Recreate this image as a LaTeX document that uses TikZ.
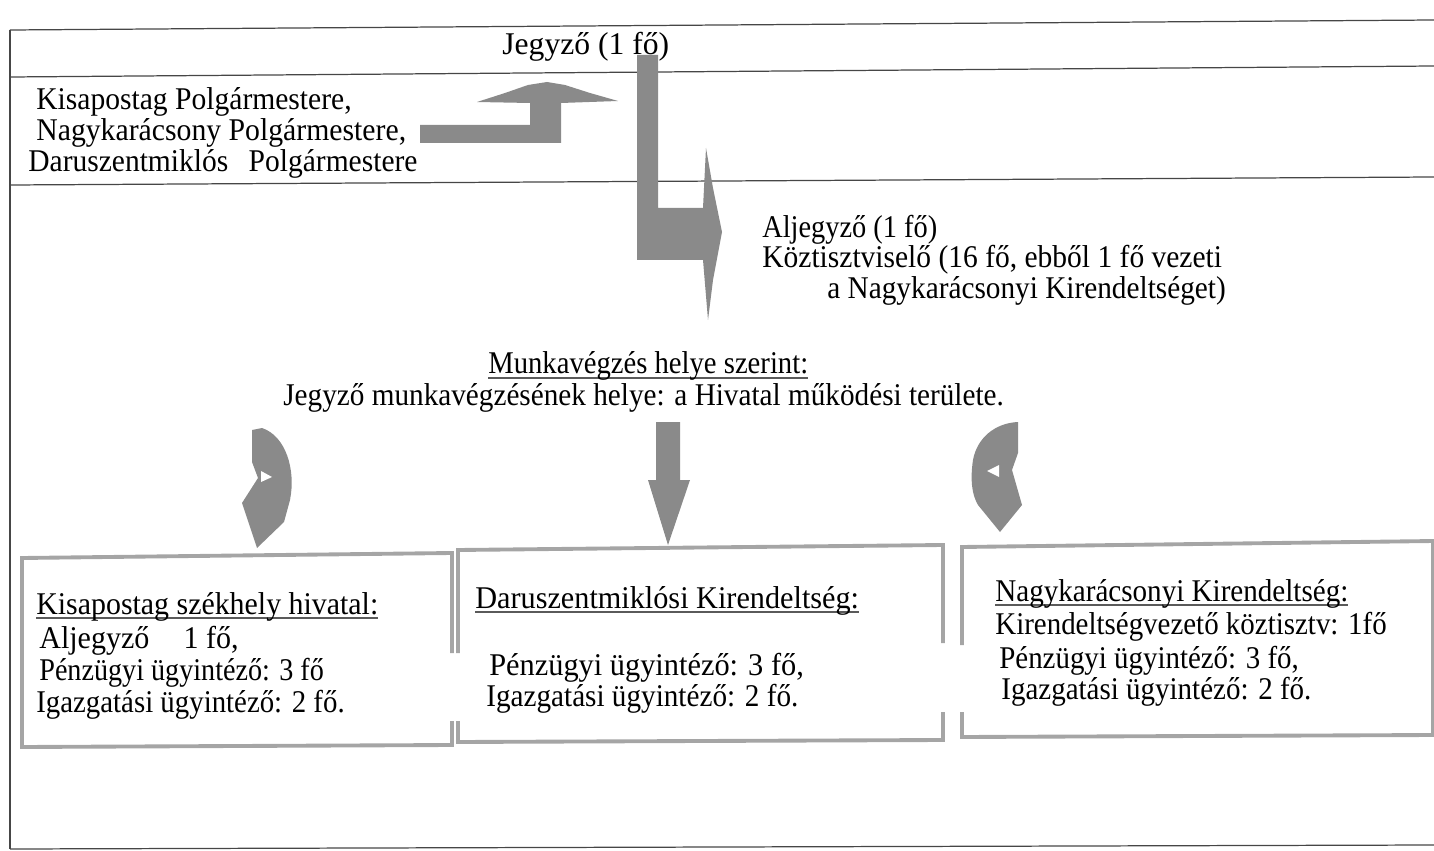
\documentclass[tikz,border=0pt]{standalone}
\usepackage{fontspec}
\usepackage{graphicx}
\setmainfont{Liberation Serif}
\definecolor{arrgray}{RGB}{138,138,138}
\definecolor{boxgray}{RGB}{165,165,165}
\definecolor{linegray}{RGB}{70,70,70}
\definecolor{ulgray}{RGB}{90,90,90}
\newcommand{\sxt}[2]{\scalebox{#1}[1]{#2}}
\newcommand{\myul}[1]{\setbox0\hbox{#1}\rlap{\textcolor{ulgray}{\rule[-2.6pt]{\wd0}{0.75pt}}}\box0}
\begin{document}
\begin{tikzpicture}[x=0.02cm,y=-0.02cm,
  txt/.style={anchor=base west,inner sep=0pt,font=\fontsize{18}{20}\selectfont},
  frame/.style={draw=linegray,line width=0.7pt},
  boxline/.style={draw=boxgray,line width=2.2pt},
  arr/.style={fill=arrgray},
  notch/.style={fill=white}]
\useasboundingbox (0,0) rectangle (1434,851);
% frame
\draw[frame] (10,30) -- (1434,20);
\draw[frame] (10,77) -- (1434,66);
\draw[frame] (10,185) -- (1434,177);
\draw[frame] (10,849) -- (1434,845);
\draw[frame] (10,30) -- (10,849);
% L arrow (behind the title)
\fill[arr] (637,55) -- (658,55) -- (658,208) -- (703,208) -- (706,148) -- (713,188) -- (722,232)
  -- (713,280) -- (708,320) -- (703,260) -- (637,260) -- cycle;
% top texts
\node[txt] (jegyzo) at (502,55) {\sxt{1.0}{Jegyző (1 fő)}};
\node[txt] (p1) at (36,110) {\sxt{0.935}{Kisapostag Polgármestere,}};
\node[txt] (p2) at (36,141) {\sxt{0.94}{Nagykarácsony Polgármestere,}};
\node[txt] (p3) at (28,172) {\sxt{0.933}{Daruszentmiklós\hspace{0.28cm} Polgármestere}};
% bent up arrow
\fill[arr] (420,125) -- (530,125) -- (530,103) -- (477,102) -- (505,93) -- (528,85) -- (547,82)
  -- (565,85) -- (590,93) -- (618,101) -- (561,103) -- (561,143) -- (420,143) -- cycle;
\node[txt] (alj) at (762,238) {\sxt{0.897}{Aljegyző (1 fő)}};
\node[txt] (koz) at (762,268) {\sxt{0.933}{Köztisztviselő (16 fő, ebből 1 fő vezeti}};
\node[txt] (koz2) at (827,298) {\sxt{0.926}{a Nagykarácsonyi Kirendeltséget)}};
\node[txt] (munk) at (488,374) {\sxt{0.906}{\myul{Munkavégzés helye szerint:}}};
\node[txt] (jmh) at (283,405) {\sxt{0.924}{Jegyző munkavégzésének helye: a Hivatal működési területe.}};
% down arrow
\fill[arr] (656,422) -- (680,422) -- (680,480) -- (690,480) -- (668,545) -- (648,480) -- (656,480) -- cycle;
% left curly arrow
\fill[arr] (252,430) -- (262,428) .. controls (286,436) and (296,470) .. (290,500) -- (284,522)
  -- (257,548) -- (242,503) -- (258,478) -- (252,462) -- cycle;
\fill[notch] (261,471) -- (272,477) -- (261,482) -- cycle;
% right curly arrow
\fill[arr] (1018,422) .. controls (995,423) and (977,438) .. (973,460) .. controls (970,480) and (972,495) .. (978,505)
  -- (1000,532) -- (1022,505) -- (1012,470) -- (1018,453) -- cycle;
\fill[notch] (999,465) -- (987,471) -- (999,477) -- cycle;
% boxes
\draw[boxline] (452,653) -- (452,553) -- (22,558) -- (22,747) -- (452,745) -- (452,721);
\draw[boxline] (458,653) -- (458,550) -- (943,545) -- (943,643);
\draw[boxline] (943,712) -- (943,740) -- (458,742) -- (458,721);
\draw[boxline] (962,645) -- (962,547) -- (1434,541);
\draw[boxline] (1434,735) -- (962,737) -- (962,712);
\draw[boxline] (1433,541) -- (1433,735);
% box texts
\node[txt] (b1t) at (36,614) {\sxt{0.945}{\myul{Kisapostag székhely hivatal:}}};
\node[txt] (b1a) at (39,648) {\sxt{0.95}{Aljegyző\hspace{0.72cm}1 fő,}};
\node[txt] (b1b) at (39,680) {\sxt{0.89}{Pénzügyi ügyintéző: 3 fő}};
\node[txt] (b1c) at (36,712) {\sxt{0.912}{Igazgatási ügyintéző: 2 fő.}};
\node[txt] (b2t) at (475,608) {\sxt{0.956}{\myul{Daruszentmiklósi Kirendeltség:}}};
\node[txt] (b2b) at (489,675) {\sxt{0.96}{Pénzügyi ügyintéző: 3 fő,}};
\node[txt] (b2c) at (486,706) {\sxt{0.923}{Igazgatási ügyintéző: 2 fő.}};
\node[txt] (b3t) at (995,601) {\sxt{0.92}{\myul{Nagykarácsonyi Kirendeltség:}}};
\node[txt] (b3a) at (995,634) {\sxt{0.915}{Kirendeltségvezető köztisztv: 1fő}};
\node[txt] (b3b) at (999,668) {\sxt{0.914}{Pénzügyi ügyintéző: 3 fő,}};
\node[txt] (b3c) at (1001,699) {\sxt{0.917}{Igazgatási ügyintéző: 2 fő.}};
\end{tikzpicture}
\end{document}
